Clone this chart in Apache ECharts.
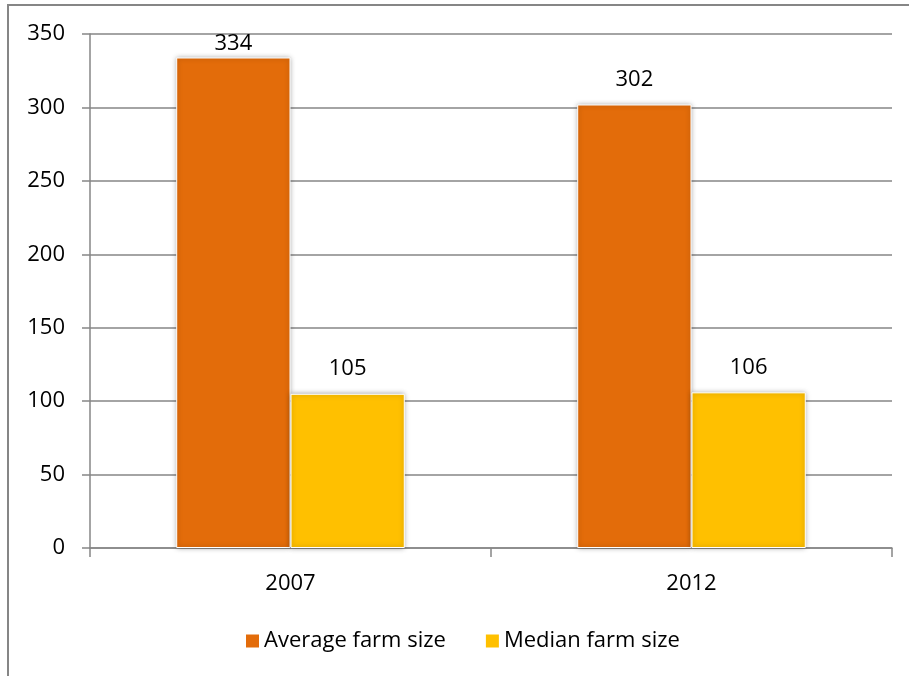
<!DOCTYPE html>
<html>
<head>
<meta charset="utf-8">
<style>
  html, body { margin: 0; padding: 0; background: #fff; }
  #chart { width: 909px; height: 676px; }
</style>
<script src="https://cdn.jsdelivr.net/npm/echarts@6/dist/echarts.min.js"></script>
</head>
<body>
<div id="chart"></div>
<script>
// Farm size by census year
const years = ['2007', '2012'];
const averageFarmSize = [334, 302];
const medianFarmSize = [105, 106];
const seriesNames = ['Average farm size', 'Median farm size'];
const yTicks = { min: 0, max: 350, interval: 50 };

const FONT = '"Open Sans"';
const FONT_SIZE = 22;
const AXIS_GRAY = '#868686';

const chart = echarts.init(document.getElementById('chart'), null, { renderer: 'canvas' });

const barStyle = (color) => ({
  color: color,
  borderColor: '#ffffff',
  borderWidth: 1,
  shadowBlur: 5,
  shadowColor: 'rgba(0,0,0,0.35)',
  shadowOffsetX: 0,
  shadowOffsetY: 0
});

const labelStyle = {
  show: true,
  position: 'top',
  distance: 14,
  color: '#000',
  fontFamily: FONT,
  fontSize: FONT_SIZE
};

chart.setOption({
  animation: false,
  backgroundColor: '#ffffff',
  textStyle: { fontFamily: FONT },
  graphic: [
    {
      type: 'rect',
      silent: true,
      shape: { x: 8, y: 5, width: 1200, height: 1200 },
      style: { fill: 'none', stroke: AXIS_GRAY, lineWidth: 2 }
    }
  ],
  grid: { left: 90, right: 17, top: 34, bottom: 128 },
  legend: {
    data: seriesNames,
    left: 241,
    top: 625,
    icon: 'rect',
    itemWidth: 13,
    itemHeight: 13,
    itemGap: 40,
    itemTextGap: 8,
    itemStyle: { borderWidth: 0, shadowBlur: 0 },
    textStyle: { fontFamily: FONT, fontSize: FONT_SIZE, color: '#000' }
  },
  xAxis: {
    type: 'category',
    data: years,
    axisLine: { lineStyle: { color: AXIS_GRAY, width: 1.5 } },
    axisTick: { show: true, length: 9, lineStyle: { color: AXIS_GRAY, width: 1.5 } },
    axisLabel: { color: '#000', fontFamily: FONT, fontSize: FONT_SIZE, margin: 25 }
  },
  yAxis: {
    type: 'value',
    min: yTicks.min,
    max: yTicks.max,
    interval: yTicks.interval,
    axisLine: { show: true, lineStyle: { color: AXIS_GRAY, width: 1.5 } },
    axisTick: { show: true, length: 8, lineStyle: { color: AXIS_GRAY, width: 1.5 } },
    splitLine: { lineStyle: { color: AXIS_GRAY, width: 1.5 } },
    axisLabel: { color: '#000', fontFamily: FONT, fontSize: FONT_SIZE, margin: 25 }
  },
  series: [
    {
      name: seriesNames[0],
      type: 'bar',
      barGap: '0%',
      barCategoryGap: '43%',
      itemStyle: barStyle('#E36C0A'),
      label: labelStyle,
      // the tallest label sits closer to its bar so it stays inside the plot
      data: averageFarmSize.map((v, i) => i === 0 ? { value: v, label: { distance: 3 } } : v)
    },
    {
      name: seriesNames[1],
      type: 'bar',
      itemStyle: barStyle('#FFC000'),
      label: labelStyle,
      data: medianFarmSize
    }
  ]
});
</script>
</body>
</html>
